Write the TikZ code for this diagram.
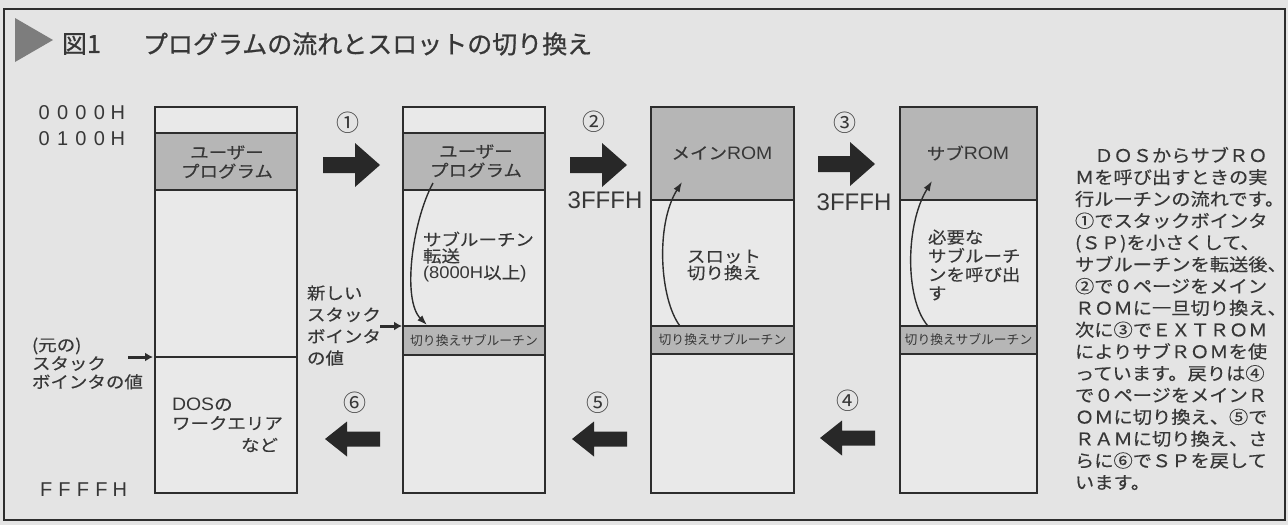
\documentclass[tikz,border=0pt]{standalone}
\usepackage{fontspec}
\setmainfont{Noto Sans CJK JP}
\newfontfamily\jp{Noto Sans CJK JP}
\newfontfamily\jpt[FakeBold=0.8]{Noto Sans CJK JP}
\newfontfamily\jpw[FakeStretch=1.12,FakeBold=0.3]{Noto Sans CJK JP}
\newfontfamily\jpr[FakeStretch=1.1,FakeBold=0.3]{Noto Sans CJK JP}
\newfontfamily\latw[FakeStretch=1.08]{Liberation Sans}
\newfontfamily\latn{Liberation Sans}
\usetikzlibrary{arrows.meta}
\definecolor{bg}{RGB}{228,228,228}
\definecolor{colfill}{RGB}{233,233,233}
\definecolor{band}{RGB}{182,182,182}
\definecolor{txt}{RGB}{55,55,55}
\definecolor{ln}{RGB}{45,45,45}
\definecolor{arrc}{RGB}{40,40,40}
\definecolor{tri}{RGB}{125,125,125}
\newcommand\latt[1]{{\latw\fontsize{18}{18}\selectfont #1}}
\newcommand\fwc[1]{\makebox[18.4pt][c]{#1}}
\begin{document}
\begin{tikzpicture}[x=1pt,y=-1pt,
  colline/.style={draw=ln, line width=1.8pt},
  t/.style={inner sep=0pt, outer sep=0pt, text=txt},
  ctext/.style={t, align=left, font={\jpw\fontsize{16.5}{#1}\selectfont}},
  num/.style={t, font={\jp\fontsize{23}{23}\selectfont}},
  btext/.style={t, font={\jp\fontsize{12.8}{13}\selectfont}},
  addr/.style={t, font={\latn\fontsize{20}{20}\selectfont}},
  hex/.style={t, font={\latn\fontsize{24}{24}\selectfont}},
  curv/.style={draw=ln, line width=1.4pt, -{Latex[length=10pt,width=7pt]}},
  ptr/.style={draw=ln, line width=3pt, -{Latex[length=8pt,width=9pt]}},
  rarr/.pic={\fill[arrc] (0,-8) -- (32,-8) -- (32,-22) -- (57,0) -- (32,22) -- (32,8) -- (0,8) -- cycle;},
  larr/.pic={\fill[arrc] (0,0) -- (22,-17.5) -- (22,-7.5) -- (55,-7.5) -- (55,7.5) -- (22,7.5) -- (22,17.5) -- cycle;}
]
\useasboundingbox (0,0) rectangle (1288,525);
\fill[bg] (0,0) rectangle (1288,525);
% frame
\draw[draw=ln, line width=2.5pt] (4,9) rectangle (1285,520);
% title
\fill[tri] (15,18) -- (53,40) -- (15,62) -- cycle;
\node[t, anchor=west, font={\jpt\fontsize{25}{25}\selectfont}] (fig) at (62,44) {図1};
\node[t, anchor=west, font={\jpt\fontsize{25}{25}\selectfont}] (title) at (143,44) {プログラムの流れとスロットの切り換え};

% address labels
\node[addr, anchor=west] (a0) at (35,113) {\fwc0\fwc0\fwc0\fwc0\fwc H};
\node[addr, anchor=west] (a1) at (35,139) {\fwc0\fwc1\fwc0\fwc0\fwc H};
\node[addr, anchor=west] (a2) at (37,490) {\fwc F\fwc F\fwc F\fwc F\fwc H};

% column 1
\fill[colfill] (155,107) rectangle (297,493);
\fill[band] (155,133) rectangle (297,190);
\draw[colline] (155,107) rectangle (297,493);
\draw[colline] (155,133) -- (297,133);
\draw[colline] (155,190) -- (297,190);
\draw[colline] (155,357) -- (297,357);
\node[ctext=19, align=center] (up1) at (227,162) {ユーザー\\プログラム};
\node[ctext=19, anchor=west] (dos) at (172,414) {\latt{DOS}の\\ワークエリア};
\node[ctext=19, anchor=east] (nado) at (278,445) {など};

% column 2
\fill[colfill] (403,107) rectangle (545,493);
\fill[band] (403,133) rectangle (545,190);
\fill[band] (403,326) rectangle (545,355);
\draw[colline] (403,107) rectangle (545,493);
\draw[colline] (403,133) -- (545,133);
\draw[colline] (403,190) -- (545,190);
\draw[colline] (403,326) -- (545,326);
\draw[colline] (403,355) -- (545,355);
\node[ctext=19, align=center] (up2) at (476,161) {ユーザー\\プログラム};
\node[ctext=16.5, anchor=west] (tr) at (423,257) {サブルーチン\\転送\\{\latw\fontsize{17}{17}\selectfont(8000H}以上\latt{)}};
\node[btext] (sb2) at (474,340.5) {切り換えサブルーチン};

% column 3
\fill[colfill] (651,107) rectangle (794,493);
\fill[band] (651,107) rectangle (794,200);
\fill[band] (651,326) rectangle (794,354);
\draw[colline] (651,107) rectangle (794,493);
\draw[colline] (651,200) -- (794,200);
\draw[colline] (651,326) -- (794,326);
\draw[colline] (651,354) -- (794,354);
\node[ctext=19] (mrom) at (722,153) {メイン\latt{ROM}};
\node[ctext=16.5, anchor=west] (slot) at (687,265) {スロット\\切り換え};
\node[btext] (sb3) at (722.5,340) {切り換えサブルーチン};

% column 4
\fill[colfill] (900,107) rectangle (1037,493);
\fill[band] (900,107) rectangle (1037,200);
\fill[band] (900,326) rectangle (1037,354);
\draw[colline] (900,107) rectangle (1037,493);
\draw[colline] (900,200) -- (1037,200);
\draw[colline] (900,326) -- (1037,326);
\draw[colline] (900,354) -- (1037,354);
\node[ctext=19] (srom) at (968,153) {サブ\latt{ROM}};
\node[ctext=18.7, anchor=west] (need) at (928,265) {必要な\\サブルーチ\\ンを呼び出\\す};
\node[btext] (sb4) at (968.5,340) {切り換えサブルーチン};

% curved arrows
\coordinate (c2a) at (433,183);
\coordinate (c2b) at (427,325);
\draw[curv] (c2a) .. controls (412,222) and (402,300) .. (c2b);
\coordinate (c3a) at (680,326);
\coordinate (c3b) at (682,182);
\draw[curv] (c3a) .. controls (660,300) and (655,225) .. (c3b);
\coordinate (c4a) at (928,326);
\coordinate (c4b) at (932,181);
\draw[curv] (c4a) .. controls (905,300) and (905,225) .. (c4b);

% stack pointer labels
\node[ctext=18.5, anchor=west] (oldsp) at (32,363.5) {(元の)\\スタック\\ボインタの値};
\coordinate (osA) at (128,357);
\coordinate (osB) at (153,357);
\draw[ptr] (osA) -- (osB);
\node[ctext=21.7, anchor=west] (newsp) at (307,325.5) {新しい\\スタック\\ボインタ\\の値};
\coordinate (nsA) at (380,326);
\coordinate (nsB) at (402,326);
\draw[ptr] (nsA) -- (nsB);

% step numbers and block arrows
\node[num] (n1) at (348,123) {①};
\node[num] (n2) at (594,122) {②};
\node[num] (n3) at (845,123) {③};
\node[num] (n4) at (848,401) {④};
\node[num] (n5) at (598,403) {⑤};
\node[num] (n6) at (355,403) {⑥};
\pic at (323,165) {rarr};
\pic at (570,165) {rarr};
\pic at (818,164) {rarr};
\pic at (325,439) {larr};
\pic at (572,439) {larr};
\pic at (820,438) {larr};
\node[hex] (h1) at (605,200) {3FFFH};
\node[hex] (h2) at (854,202) {3FFFH};

% explanation text
\node[t, anchor=west, align=left, font={\jpr\fontsize{17.5}{21.8}\selectfont}] (expl) at (1075,318.5)
{　ＤＯＳからサブＲＯ\\Ｍを呼び出すときの実\\行ルーチンの流れです。\\①でスタックボインタ\\(ＳＰ)を小さくして、\\サブルーチンを転送後、\\②で０ページをメイン\\ＲＯＭに一旦切り換え、\\次に③でＥＸＴＲＯＭ\\によりサブＲＯＭを使\\っています。戻りは④\\で０ページをメインＲ\\ＯＭに切り換え、⑤で\\ＲＡＭに切り換え、さ\\らに⑥でＳＰを戻して\\います。};
\end{tikzpicture}
\end{document}
